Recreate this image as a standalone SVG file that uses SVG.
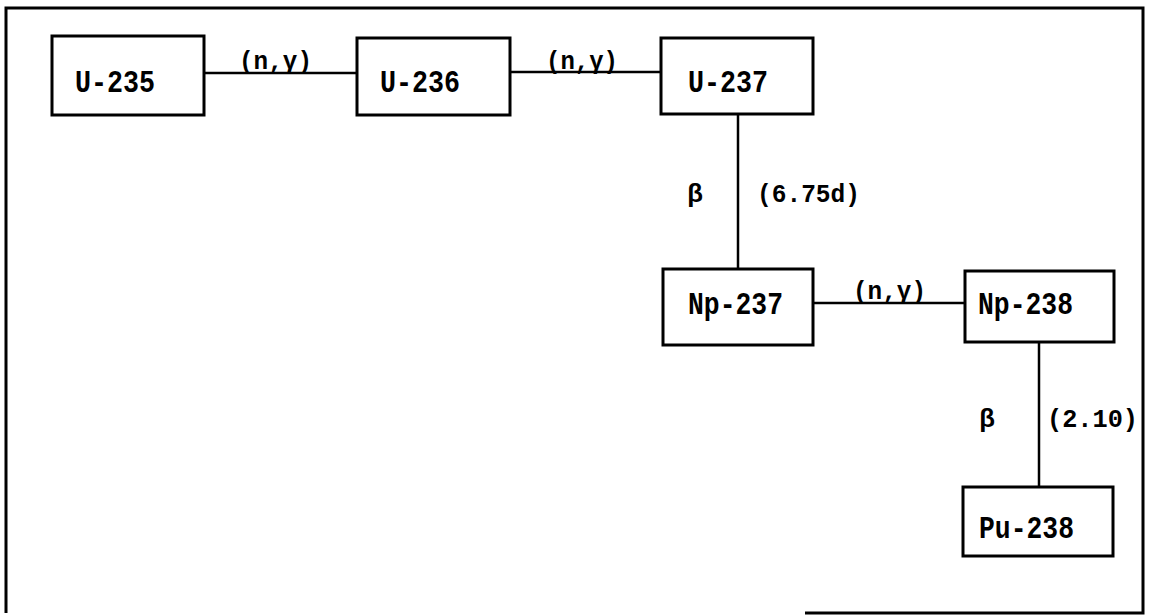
<svg xmlns="http://www.w3.org/2000/svg" width="1152" height="615" viewBox="0 0 1152 615">
<style>
.box{fill:#fff;stroke:#000;stroke-width:3}
.frame{fill:none;stroke:#000;stroke-width:3}
.line{fill:none;stroke:#000;stroke-width:2.5}
.t{font-family:"Liberation Mono","Courier New",monospace;font-weight:bold;font-size:31px;fill:#000}
.l{font-family:"Liberation Mono","Courier New",monospace;font-weight:bold;font-size:26px;fill:#000}
</style>
<rect width="1152" height="615" fill="#fff"/>
<path class="frame" d="M805,613 H1143 V8 H6 V613"/>
<g id="connectors">
<line class="line" x1="204" y1="73" x2="357" y2="73"/>
<line class="line" x1="510" y1="72" x2="661" y2="72"/>
<line class="line" x1="738" y1="115" x2="738" y2="269"/>
<line class="line" x1="813" y1="303" x2="965" y2="303"/>
<line class="line" x1="1039" y1="342" x2="1039" y2="487"/>
<text class="l" x="239" y="69" textLength="73" lengthAdjust="spacingAndGlyphs">(n,γ)</text>
<text class="l" x="546" y="69" textLength="72" lengthAdjust="spacingAndGlyphs">(n,γ)</text>
<text class="l" x="695" y="202" text-anchor="middle">β</text>
<text class="l" x="757" y="202" textLength="103" lengthAdjust="spacingAndGlyphs">(6.75d)</text>
<text class="l" x="853" y="299" textLength="73" lengthAdjust="spacingAndGlyphs">(n,γ)</text>
<text class="l" x="987" y="427" text-anchor="middle">β</text>
<text class="l" x="1047" y="427" textLength="91" lengthAdjust="spacingAndGlyphs">(2.10)</text>
</g>
<g id="U-235"><rect class="box" x="52" y="36" width="152" height="79"/><text class="t" x="75" y="92" textLength="80" lengthAdjust="spacingAndGlyphs">U-235</text></g>
<g id="U-236"><rect class="box" x="357" y="38" width="153" height="77"/><text class="t" x="380" y="92" textLength="80" lengthAdjust="spacingAndGlyphs">U-236</text></g>
<g id="U-237"><rect class="box" x="661" y="38" width="152" height="76"/><text class="t" x="688" y="92" textLength="80" lengthAdjust="spacingAndGlyphs">U-237</text></g>
<g id="Np-237"><rect class="box" x="663" y="269" width="150" height="76"/><text class="t" x="688" y="314" textLength="95" lengthAdjust="spacingAndGlyphs">Np-237</text></g>
<g id="Np-238"><rect class="box" x="965" y="271" width="149" height="71"/><text class="t" x="978" y="314" textLength="95" lengthAdjust="spacingAndGlyphs">Np-238</text></g>
<g id="Pu-238"><rect class="box" x="963" y="487" width="150" height="69"/><text class="t" x="979" y="538" textLength="95" lengthAdjust="spacingAndGlyphs">Pu-238</text></g>
</svg>
